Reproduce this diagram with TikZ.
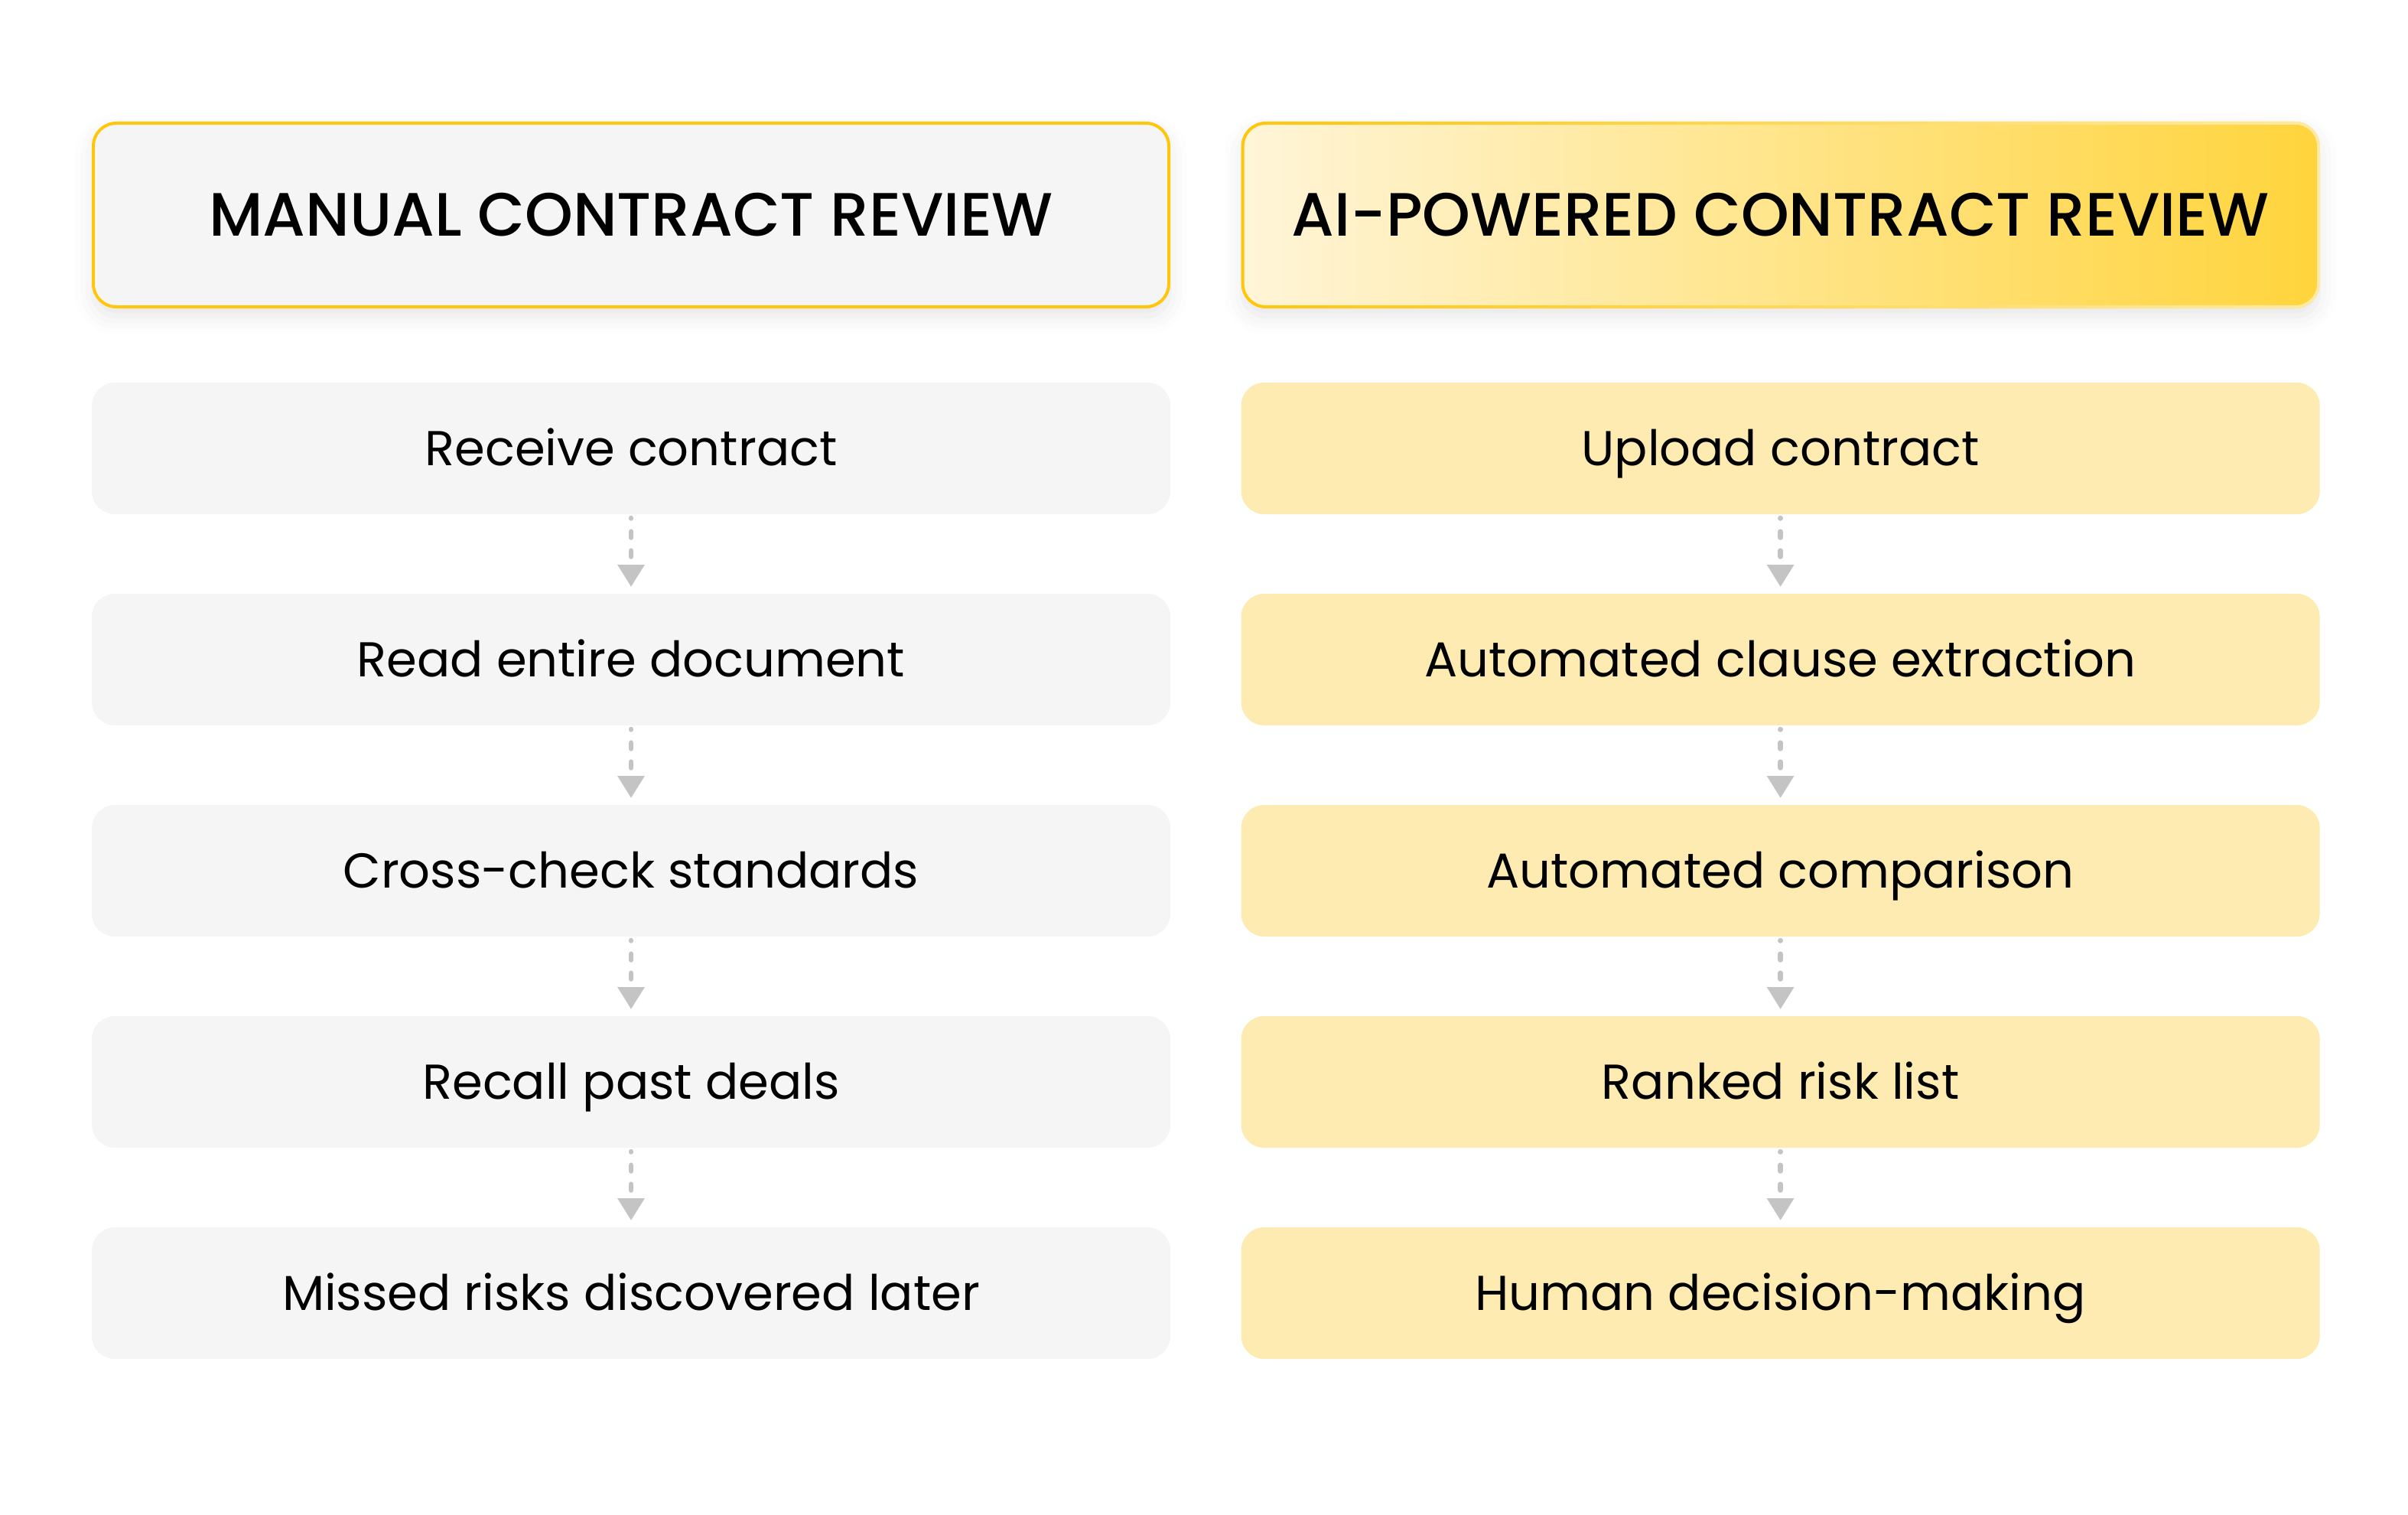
\documentclass[tikz,border=0pt]{standalone}
\usepackage{fontspec}
\setmainfont{Poppins}
\newfontfamily\headfont{Poppins Medium}
\usetikzlibrary{shapes, arrows.meta, positioning, shadows.blur, fadings}
\definecolor{boxgray}{HTML}{F5F5F5}
\definecolor{boxyellow}{HTML}{FEEBB2}
\definecolor{headline}{HTML}{FFC60B}
\definecolor{headlight}{HTML}{FFEBA6}
\definecolor{gradleft}{HTML}{FFF5D8}
\definecolor{gradright}{HTML}{FFD43C}
\definecolor{arrowgray}{HTML}{C4C4C4}
\tikzfading[name=lightright, left color=transparent!100, middle color=transparent!85, right color=transparent!0]

\begin{document}
\begin{tikzpicture}[x=1pt, y=1pt, outer sep=0pt,
  head/.style = {rounded corners=7.5pt, minimum width=351.5pt, minimum height=60pt, line width=1pt, text height=14pt, text depth=0pt, font=\headfont\fontsize{20}{24}\selectfont, blur shadow={shadow xshift=0pt, shadow yshift=-3pt, shadow blur radius=6pt, shadow opacity=10}},
  stepbox/.style = {rounded corners=7.5pt, minimum width=352.5pt, minimum height=43pt, text height=11.2pt, text depth=0pt, font=\fontsize{16}{19}\selectfont},
  manual/.style = {stepbox, fill=boxgray},
  ai/.style = {stepbox, fill=boxyellow},
  flow/.style = {arrowgray, line width=1.6pt, line cap=round, dash pattern=on 2pt off 4.25pt, dash phase=1.85pt, shorten <=1.25pt, shorten >=2.25pt, -{Triangle[width=8.5pt, length=7.25pt]}}
]
\useasboundingbox (0,0) rectangle (787,-495);

% headers
\node[head, draw=headline, fill=boxgray] (hm) at (206.25,-70.25) {MANUAL CONTRACT REVIEW};
\node[head, draw=headline, left color=gradleft, right color=gradright] (ha) at (581.9,-70.25) {AI-POWERED CONTRACT REVIEW};
\draw[headlight, line width=1pt, rounded corners=7.5pt, path fading=lightright] (ha.south west) rectangle (ha.north east);

% manual steps
\node[manual] (m1) [below=24.75pt of hm] {Receive contract};
\node[manual] (m2) [below=26pt of m1] {Read entire document};
\node[manual] (m3) [below=26pt of m2] {Cross-check standards};
\node[manual] (m4) [below=26pt of m3] {Recall past deals};
\node[manual] (m5) [below=26pt of m4] {Missed risks discovered later};

% ai steps
\node[ai] (a1) [below=24.75pt of ha] {Upload contract};
\node[ai] (a2) [below=26pt of a1] {Automated clause extraction};
\node[ai] (a3) [below=26pt of a2] {Automated comparison};
\node[ai] (a4) [below=26pt of a3] {Ranked risk list};
\node[ai] (a5) [below=26pt of a4] {Human decision-making};

\draw[flow] (m1) -- (m2);
\draw[flow] (m2) -- (m3);
\draw[flow] (m3) -- (m4);
\draw[flow] (m4) -- (m5);
\draw[flow] (a1) -- (a2);
\draw[flow] (a2) -- (a3);
\draw[flow] (a3) -- (a4);
\draw[flow] (a4) -- (a5);
\end{tikzpicture}
\end{document}
